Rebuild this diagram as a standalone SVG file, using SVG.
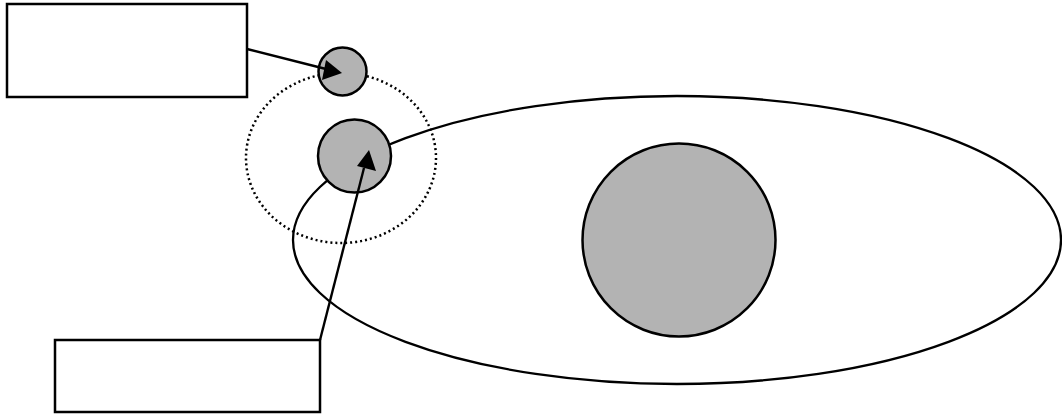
<svg xmlns="http://www.w3.org/2000/svg" width="1062" height="418" viewBox="0 0 1062 418">
<style>
.box{fill:#fff;stroke:#000;stroke-width:2.5}
.ball{fill:#b3b3b3;stroke:#000;stroke-width:2.5}
.orbit{fill:none;stroke:#000;stroke-width:2.3}
.dot{fill:none;stroke:#000;stroke-width:2.5;stroke-dasharray:2 3}
.conn{fill:none;stroke:#000;stroke-width:2.4}
.head{fill:#000}
</style>
<rect width="1062" height="418" fill="#fff"/>
<g id="orbit-large"><ellipse class="orbit" cx="677" cy="240" rx="384" ry="144"/></g>
<g id="central-body"><circle class="ball" cx="679" cy="240" r="96.5"/></g>
<g id="orbit-small"><ellipse class="dot" cx="341" cy="158" rx="95" ry="85"/></g>
<g id="planet"><circle class="ball" cx="354.5" cy="156" r="36.5"/></g>
<g id="moon"><circle class="ball" cx="342.5" cy="71.5" r="24"/></g>
<g id="label-top"><rect class="box" x="7" y="4" width="240" height="93"/></g>
<g id="label-bottom"><rect class="box" x="55" y="340" width="265" height="72"/></g>
<g id="connectors">
<line class="conn" x1="247" y1="49" x2="326" y2="69"/>
<polygon class="head" points="342,73 322,80 326,60"/>
<line class="conn" x1="320" y1="340" x2="364" y2="168"/>
<polygon class="head" points="369,150 376,171 357,166"/>
</g>
</svg>
